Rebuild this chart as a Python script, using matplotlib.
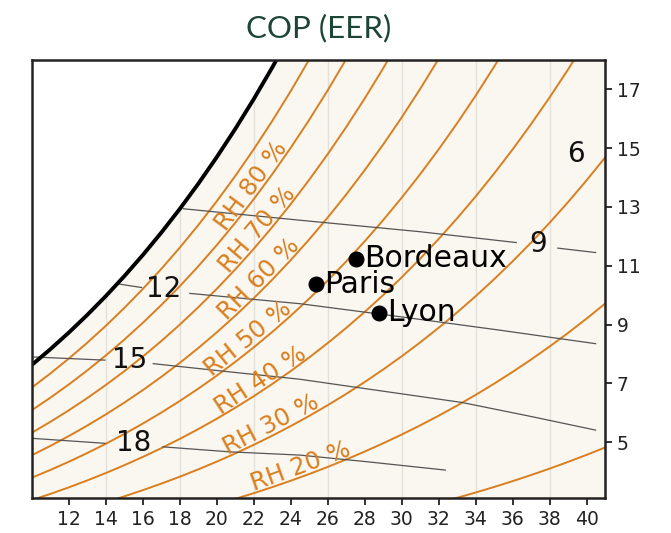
import numpy as np
import matplotlib
matplotlib.use("Agg")
import matplotlib.pyplot as plt

# ---------------- data ----------------
# saturation vapour pressure table (kPa), 1 degC steps
temps = list(range(10, 42))
p_sat = [1.2282, 1.3130, 1.4028, 1.4981, 1.5990, 1.7058, 1.8188, 1.9384,
         2.0647, 2.1983, 2.3393, 2.4882, 2.6453, 2.8111, 2.9858, 3.1699,
         3.3639, 3.5681, 3.7831, 4.0092, 4.2470, 4.4969, 4.7596, 5.0354,
         5.3251, 5.6290, 5.9479, 6.2823, 6.6328, 7.0002, 7.3849, 7.7878]
pressure = 101.325  # kPa

rh_levels = [10, 20, 30, 40, 50, 60, 70, 80, 90]
rh_label_levels = [20, 30, 40, 50, 60, 70, 80]
rh_label_t = [24.7, 23.2, 22.65, 22.05, 22.65, 22.6, 22.3]

# COP contour lines (temperature degC, humidity g/kg); nan = label gap
cop_levels = ["18", "15", "12", "9"]
cop18_t = [10.0, 13.95, np.nan, 17.08, 20.7, 24.49, 28.18, 32.36]
cop18_w = [5.13, 4.96, np.nan, 4.84, 4.67, 4.56, 4.33, 4.05]
cop15_t = [10.0, 13.95, np.nan, 16.56, 20.7, 24.49, 27.37, 33.26, 37.1, 40.49]
cop15_w = [7.90, 7.79, np.nan, 7.67, 7.39, 7.14, 6.88, 6.35, 5.86, 5.41]
cop12_t = [14.58, 15.93, np.nan, 18.54, 24.49, 30.0, 35.3, 40.49]
cop12_w = [10.39, 10.26, np.nan, 10.06, 9.71, 9.26, 8.81, 8.35]
cop9_t = [18.18, 24.49, 30.97, 36.2, np.nan, 38.45, 40.49]
cop9_w = [12.94, 12.55, 12.16, 11.79, np.nan, 11.60, 11.45]
cop_label_text = ["18", "15", "12", "9", "6"]
cop_label_t = [15.48, 15.30, 17.10, 37.37, 39.44]
cop_label_w = [4.96, 7.79, 10.20, 11.75, 14.81]

cities = ["Paris", "Bordeaux", "Lyon"]
city_t = [25.35, 27.51, 28.77]
city_w = [10.37, 11.24, 9.41]

xticks = list(range(12, 41, 2))
yticks = [5, 7, 9, 11, 13, 15, 17]
grid_x = [14, 18, 22, 26, 30, 34, 38]

# ---------------- style ----------------
ORANGE = "#d97f1f"
BEIGE = "#faf6f0"
GRIDC = "#e4e0da"
TITLEC = "#1d4536"

T = np.array(temps, dtype=float)
PS = np.array(p_sat)


def humidity(rh, t):
    ps = np.interp(t, T, PS)
    pw = rh / 100.0 * ps
    return 622.0 * pw / (pressure - pw)


fig = plt.figure(figsize=(6.71, 5.33), dpi=100)
ax = fig.add_axes([32 / 671, 1 - 498 / 533, (605 - 32) / 671, (498 - 60) / 533])
ax.set_facecolor(BEIGE)
ax.set_xlim(10, 41)
ax.set_ylim(3.1, 18)

for gx in grid_x:
    ax.axvline(gx, color=GRIDC, lw=1.0, zorder=0.5)

w_sat = humidity(100, T)
ax.fill_between(T, w_sat, 30, color="white", zorder=1, lw=0)
ax.plot(T, w_sat, color="black", lw=2.8, zorder=4)

for rh in rh_levels:
    ax.plot(T, humidity(rh, T), color=ORANGE, lw=1.4, zorder=3)

# COP lines
for xs, ys in [(cop18_t, cop18_w), (cop15_t, cop15_w), (cop12_t, cop12_w), (cop9_t, cop9_w)]:
    ax.plot(xs, ys, color="#555555", lw=0.9, zorder=3.5)
for txt, tx, ty in zip(cop_label_text, cop_label_t, cop_label_w):
    ax.text(tx, ty, txt, ha="center", va="center", fontsize=20, color="#111111", zorder=6)

# RH labels
fig.canvas.draw()
for rh, tl in zip(rh_label_levels, rh_label_t):
    y0 = humidity(rh, tl)
    p1 = ax.transData.transform((tl - 0.2, humidity(rh, tl - 0.2)))
    p2 = ax.transData.transform((tl + 0.2, humidity(rh, tl + 0.2)))
    ang = np.degrees(np.arctan2(p2[1] - p1[1], p2[0] - p1[0]))
    d = 2.0
    off = (-np.sin(np.radians(ang)) * d, np.cos(np.radians(ang)) * d)
    ax.annotate(f"RH {rh} %", (tl, y0), xytext=off, textcoords="offset points",
                rotation=ang, rotation_mode="anchor", ha="center", va="baseline",
                fontsize=17.5, color=ORANGE, zorder=6)

# cities
ax.plot(city_t, city_w, "o", color="black", ms=10.5, zorder=7)
for name, cx, cy in zip(cities, city_t, city_w):
    ax.annotate(name, (cx, cy), xytext=(6, 0), textcoords="offset points",
                ha="left", va="center", fontsize=21.5, color="black", zorder=7)

ax.set_xticks(xticks)
ax.set_yticks(yticks)
ax.yaxis.tick_right()
ax.tick_params(axis="x", labelsize=13.5, length=5, width=1.3, colors="#222222")
ax.tick_params(axis="y", labelsize=13.5, length=5, width=1.3, colors="#222222",
               left=False, right=True, labelleft=False, labelright=True)
for s in ax.spines.values():
    s.set_linewidth(1.8)
    s.set_color("#222222")
    s.set_zorder(8)

fig.text(0.5 * (32 + 605) / 671, 1 - 28 / 533, "COP (EER)", ha="center", va="center",
         fontsize=22.5, color=TITLEC, family="Lato")

fig.savefig("out.png", dpi=100)
